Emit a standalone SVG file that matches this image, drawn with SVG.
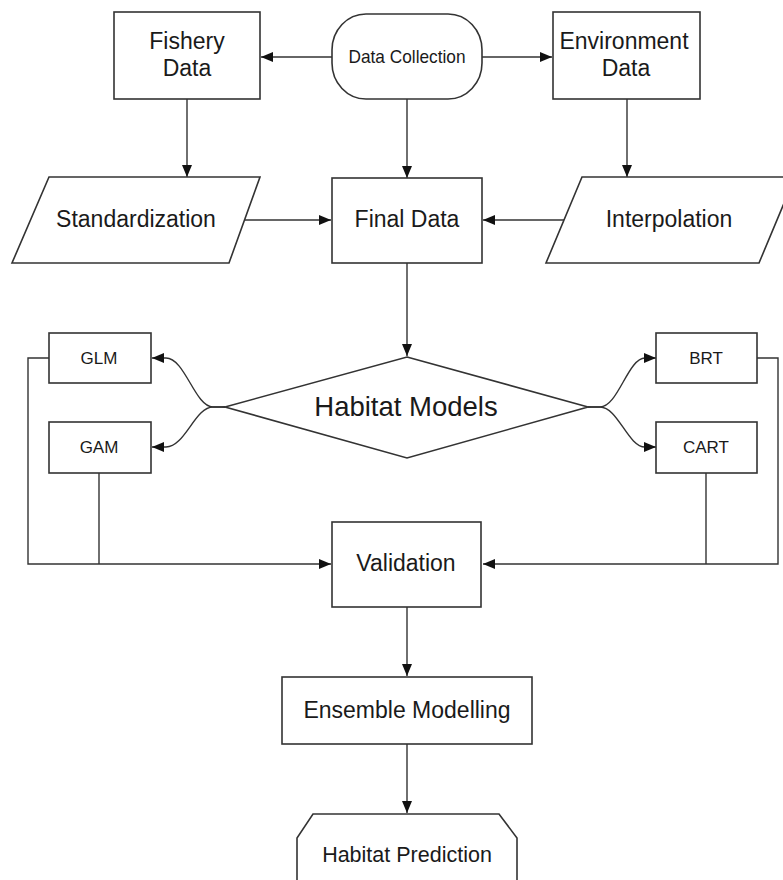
<svg xmlns="http://www.w3.org/2000/svg" width="783" height="880" viewBox="0 0 783 880">
<style>
.n{fill:#fff;stroke:#333;stroke-width:1.6}
.c{fill:none;stroke:#333;stroke-width:1.4}
.t{font-family:"Liberation Sans",Arial,sans-serif;fill:#1a1a1a;text-anchor:middle}
.l{font-size:23px}
.s{font-size:17px}
</style>
<defs>
<marker id="a" markerUnits="userSpaceOnUse" markerWidth="13" markerHeight="11" refX="12" refY="5" orient="auto">
<path d="M0,0 L12,5 L0,10 Z" fill="#111"/>
</marker>
</defs>
<rect width="783" height="880" fill="#fff"/>
<g id="connectors">
<path class="c" d="M332,57 H261" marker-end="url(#a)"/>
<path class="c" d="M482,57 H552" marker-end="url(#a)"/>
<path class="c" d="M187,99 V177" marker-end="url(#a)"/>
<path class="c" d="M407,99 V178" marker-end="url(#a)"/>
<path class="c" d="M627,99 V177" marker-end="url(#a)"/>
<path class="c" d="M242,220 H331" marker-end="url(#a)"/>
<path class="c" d="M565,220 H483" marker-end="url(#a)"/>
<path class="c" d="M407,263 V356" marker-end="url(#a)"/>
<path class="c" d="M225,407 H213 C195,407 185,358 166,358 H152" marker-end="url(#a)"/>
<path class="c" d="M225,407 H213 C195,407 185,447 166,447 H152" marker-end="url(#a)"/>
<path class="c" d="M588,407 H600 C618,407 628,358 645,358 H656" marker-end="url(#a)"/>
<path class="c" d="M588,407 H600 C618,407 628,447 645,447 H656" marker-end="url(#a)"/>
<path class="c" d="M49,358 H28 V564 H331" marker-end="url(#a)"/>
<path class="c" d="M99,473 V564"/>
<path class="c" d="M757,358 H778 V564 H483" marker-end="url(#a)"/>
<path class="c" d="M706,473 V564"/>
<path class="c" d="M407,607 V676" marker-end="url(#a)"/>
<path class="c" d="M407,744 V813" marker-end="url(#a)"/>
</g>
<g id="fishery">
<rect class="n" x="114" y="12" width="146" height="87"/>
<text class="t l" x="187" y="49">Fishery</text>
<text class="t l" x="187" y="76">Data</text>
</g>
<g id="datacollection">
<rect class="n" x="332" y="14" width="150" height="85" rx="34" ry="36"/>
<text class="t" x="407" y="63" font-size="19" textLength="117" lengthAdjust="spacingAndGlyphs">Data Collection</text>
</g>
<g id="environment">
<rect class="n" x="553" y="12" width="147" height="87"/>
<text class="t l" x="624" y="49">Environment</text>
<text class="t l" x="626" y="76">Data</text>
</g>
<g id="standardization">
<path class="n" d="M49,177 H260 L229,263 H12 Z"/>
<text class="t l" x="136" y="227">Standardization</text>
</g>
<g id="finaldata">
<rect class="n" x="332" y="178" width="150" height="85"/>
<text class="t l" x="407" y="227">Final Data</text>
</g>
<g id="interpolation">
<path class="n" d="M582,177 H795 L759,263 H546 Z"/>
<text class="t l" x="669" y="227">Interpolation</text>
</g>
<g id="habitatmodels">
<path class="n" d="M407,357 L588,407 L407,458 L225,407 Z"/>
<text class="t" x="406" y="416" font-size="27.5">Habitat Models</text>
</g>
<g id="glm">
<rect class="n" x="49" y="333" width="102" height="50"/>
<text class="t s" x="99" y="364">GLM</text>
</g>
<g id="gam">
<rect class="n" x="49" y="422" width="102" height="51"/>
<text class="t s" x="99" y="453">GAM</text>
</g>
<g id="brt">
<rect class="n" x="656" y="333" width="101" height="50"/>
<text class="t s" x="706" y="364">BRT</text>
</g>
<g id="cart">
<rect class="n" x="656" y="422" width="101" height="51"/>
<text class="t s" x="706" y="453">CART</text>
</g>
<g id="validation">
<rect class="n" x="332" y="522" width="149" height="85"/>
<text class="t l" x="406" y="571">Validation</text>
</g>
<g id="ensemble">
<rect class="n" x="282" y="677" width="250" height="67"/>
<text class="t l" x="407" y="718">Ensemble Modelling</text>
</g>
<g id="habitatprediction">
<path class="n" d="M297,882 V838 L313,814 H499 L517,838 V882"/>
<text class="t" x="407" y="862" font-size="21.5">Habitat Prediction</text>
</g>
</svg>
